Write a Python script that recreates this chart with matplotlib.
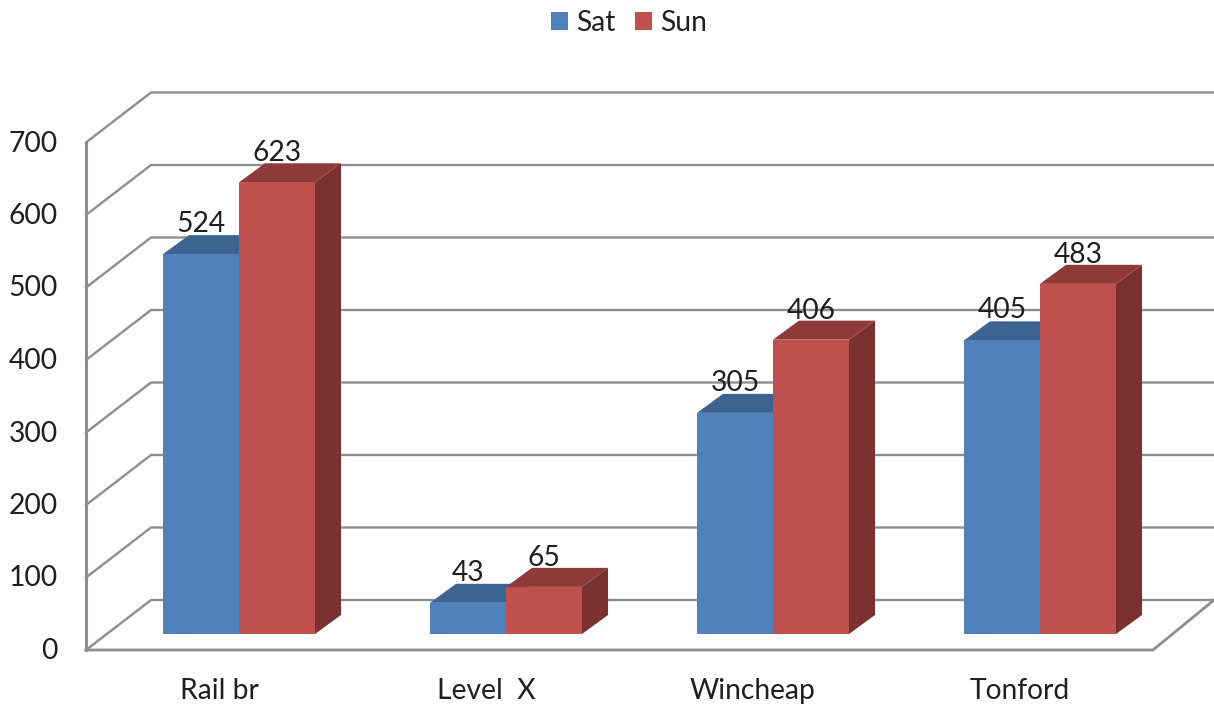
import matplotlib
matplotlib.use('Agg')
import matplotlib.pyplot as plt
from matplotlib.patches import Polygon, Patch

plt.rcParams['font.family'] = ['Lato', 'DejaVu Sans']

categorias = ['Rail br', 'Level  X', 'Wincheap', 'Tonford']
sat = [524, 43, 305, 405]
sun = [623, 65, 406, 483]
ticks_y = [0, 100, 200, 300, 400, 500, 600, 700]

cor_sat = '#4F81BD'
cor_sat_topo = '#3C6391'
cor_sun = '#C0504D'
cor_sun_topo = '#8E3A38'
cor_sun_lado = '#7B3130'
cor_grade = '#8E8E8E'
cor_texto = '#1F1F1F'
tamanho_fonte = 20.3

# escala: 1 categoria = 267 px, 1 unidade de valor = 0.725 px
px_x = 1 / 267
px_y = 1 / 0.725
largura = 76 * px_x
prof_x = 26 * px_x
prof_y = 19 * px_y

# planos da parede em relacao ao plano das barras
frente_x, frente_y = -153 * px_x, -16 * px_y
fundo_x, fundo_y = -88 * px_x, 34 * px_y
fim_frente = 914 * px_x
fim_fundo = 975 * px_x

fig = plt.figure(figsize=(12.14, 7.04), dpi=100)
ax = fig.add_axes([0, 0, 1, 1])
ax.set_xlim(-239 * px_x, 975 * px_x)
ax.set_ylim(-70 * px_y, 634 * px_y)
ax.axis('off')

# grade e paredes
for t in ticks_y:
    ax.plot([frente_x, fundo_x, fim_fundo], [t + frente_y, t + fundo_y, t + fundo_y],
            color=cor_grade, lw=1.7, zorder=1, solid_joinstyle='miter')
    ax.text(-181 * px_x, t + frente_y - 1 * px_y, str(t), ha='right', va='center',
            fontsize=tamanho_fonte, color=cor_texto)
ax.plot([frente_x, frente_x], [frente_y, 700 + frente_y], color=cor_grade, lw=2.2, zorder=1)
ax.plot([frente_x, fim_frente, fim_fundo], [frente_y, frente_y, fundo_y],
        color=cor_grade, lw=2.0, zorder=1, solid_joinstyle='miter')

# barras
for i in range(len(categorias)):
    x_sat = i - largura
    x_sun = i
    ax.add_patch(Polygon([(x_sat, sat[i]), (x_sat + prof_x, sat[i] + prof_y),
                          (x_sat + largura + prof_x, sat[i] + prof_y), (x_sat + largura, sat[i])],
                         facecolor=cor_sat_topo, edgecolor='none', zorder=2))
    ax.bar(x_sat, sat[i], largura, align='edge', color=cor_sat, zorder=3)
    ax.add_patch(Polygon([(x_sun, sun[i]), (x_sun + prof_x, sun[i] + prof_y),
                          (x_sun + largura + prof_x, sun[i] + prof_y), (x_sun + largura, sun[i])],
                         facecolor=cor_sun_topo, edgecolor='none', zorder=4))
    ax.add_patch(Polygon([(x_sun + largura, 0), (x_sun + largura + prof_x, prof_y),
                          (x_sun + largura + prof_x, sun[i] + prof_y), (x_sun + largura, sun[i])],
                         facecolor=cor_sun_lado, edgecolor='none', zorder=4))
    ax.bar(x_sun, sun[i], largura, align='edge', color=cor_sun, zorder=5)
    ax.text(x_sat + largura / 2, sat[i] + 30 * px_y, str(sat[i]), ha='center', va='center',
            fontsize=tamanho_fonte, color=cor_texto, zorder=6)
    ax.text(x_sun + largura / 2, sun[i] + 29 * px_y, str(sun[i]), ha='center', va='center',
            fontsize=tamanho_fonte, color=cor_texto, zorder=6)
    ax.text(i - 20 * px_x, -57 * px_y, categorias[i], ha='center', va='center',
            fontsize=tamanho_fonte, color=cor_texto)

handles = [Patch(facecolor=cor_sat, label='Sat'), Patch(facecolor=cor_sun, label='Sun')]
ax.legend(handles=handles, ncol=2, frameon=False, loc='center', bbox_to_anchor=(629 / 1214, 1 - 23 / 704),
          fontsize=tamanho_fonte, labelcolor=cor_texto, handlelength=0.6, handleheight=0.6,
          handletextpad=0.29, columnspacing=0.68)

plt.savefig('out.png', dpi=100)
